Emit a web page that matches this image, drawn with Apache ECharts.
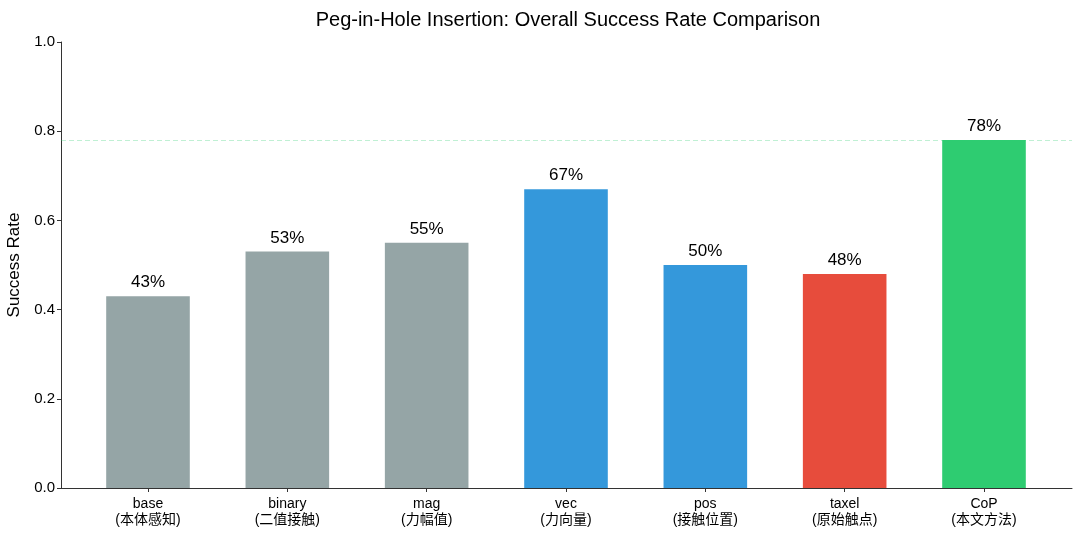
<!DOCTYPE html>
<html>
<head>
<meta charset="utf-8">
<script src="https://cdn.jsdelivr.net/npm/echarts@6/dist/echarts.min.js"></script>
<style>html,body{margin:0;padding:0;background:#fff;}#c{width:1080px;height:536px;}</style>
</head>
<body>
<div id="c"></div>
<script>
const categories = ['base\n(本体感知)', 'binary\n(二值接触)', 'mag\n(力幅值)', 'vec\n(力向量)', 'pos\n(接触位置)', 'taxel\n(原始触点)', 'CoP\n(本文方法)'];
const successRates = [0.43, 0.53, 0.55, 0.67, 0.50, 0.48, 0.78];
const barColors = ['#95a5a6', '#95a5a6', '#95a5a6', '#3498db', '#3498db', '#e74c3c', '#2ecc71'];
const referenceLine = 0.78;
const yTicks = [0.0, 0.2, 0.4, 0.6, 0.8, 1.0];

const FONT = '"Liberation Sans", Arial, "Noto Sans CJK SC", sans-serif';
const chart = echarts.init(document.getElementById('c'), null, {renderer: 'canvas'});
chart.setOption({
  backgroundColor: '#ffffff',
  animation: false,
  title: {
    text: 'Peg-in-Hole Insertion: Overall Success Rate Comparison',
    left: 563, top: 5, textAlign: 'center',
    textStyle: {fontFamily: FONT, fontSize: 20, fontWeight: 'normal', color: '#000'}
  },
  grid: [
    {left: 61, right: 8, top: 42, bottom: 48, containLabel: false, outerBoundsMode: 'none'},
    {left: 78.33, right: 26.33, top: 42, bottom: 48, containLabel: false, outerBoundsMode: 'none'}
  ],
  xAxis: [
    {gridIndex: 0, type: 'value', min: 0, max: 1, axisLine: {show: true, lineStyle: {color: '#333', width: 1}},
     axisTick: {show: false}, axisLabel: {show: false}, splitLine: {show: false}},
    {gridIndex: 1, type: 'category', data: categories,
     axisLine: {show: false},
     axisTick: {show: true, alignWithLabel: true, length: 4, lineStyle: {color: '#333'}},
     axisLabel: {fontFamily: FONT, fontSize: 14, color: '#000', lineHeight: 16, margin: 8, interval: 0}}
  ],
  yAxis: [
    {gridIndex: 0, type: 'value', min: yTicks[0], max: yTicks[yTicks.length - 1], interval: 0.2,
     name: 'Success Rate', nameLocation: 'middle', nameGap: 37,
     nameTextStyle: {fontFamily: FONT, fontSize: 17, color: '#000'},
     axisLine: {show: true, lineStyle: {color: '#333', width: 1}},
     axisTick: {show: true, length: 4, lineStyle: {color: '#333'}},
     axisLabel: {fontFamily: FONT, fontSize: 15, color: '#000', margin: 6, formatter: v => v.toFixed(1)},
     splitLine: {show: false}},
    {gridIndex: 1, type: 'value', min: 0, max: 1, show: false, splitLine: {show: false}}
  ],
  series: [
    {
      type: 'line', xAxisIndex: 0, yAxisIndex: 0, data: [], silent: true,
      markLine: {
        symbol: 'none', silent: true, label: {show: false},
        lineStyle: {color: 'rgba(46,204,113,0.3)', type: [5, 3], width: 1},
        data: [{yAxis: referenceLine}]
      }
    },
    {
      type: 'bar', xAxisIndex: 1, yAxisIndex: 1, barWidth: '60%',
      data: successRates.map((v, i) => ({value: v, itemStyle: {color: barColors[i]}})),
      label: {show: true, position: 'top', distance: 5, fontFamily: FONT, fontSize: 17, color: '#000',
              formatter: p => Math.round(p.value * 100) + '%'}
    }
  ]
});
</script>
</body>
</html>
